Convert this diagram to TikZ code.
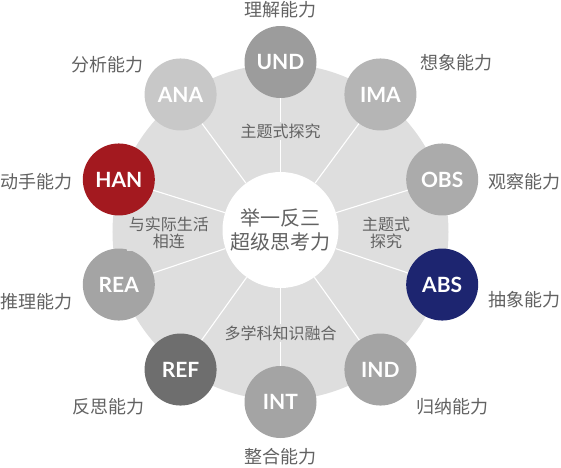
\documentclass[tikz,border=0pt]{standalone}
\usepackage{fontspec}
\setmainfont{Lato}
\newfontfamily\cjk{Noto Sans CJK SC}
\usepackage{tikz}

\definecolor{ringgray}{HTML}{DEDEDE}
\definecolor{txtgray}{HTML}{626262}
\definecolor{hanred}{HTML}{A3191F}
\definecolor{absblue}{HTML}{1D2570}
\definecolor{undgray}{HTML}{9C9C9C}
\definecolor{imagray}{HTML}{B5B5B5}
\definecolor{anagray}{HTML}{C8C8C8}
\definecolor{obsgray}{HTML}{ABABAB}
\definecolor{midgray}{HTML}{A4A4A4}
\definecolor{refgray}{HTML}{6E6E6E}

\tikzset{
  skill/.style={circle, minimum size=72pt, inner sep=0pt, text=white,
    font=\bfseries\fontsize{21}{23}\selectfont},
  lbl/.style={text=txtgray, font=\cjk\fontsize{18}{20}\selectfont},
  inlbl/.style={text=txtgray, fill=ringgray, align=center, inner sep=1.5pt,
    font=\cjk\fontsize{16}{17.5}\selectfont},
  spoke/.style={white, line width=1.1pt}
}

\begin{document}
\begin{tikzpicture}[x=1pt,y=1pt]
\useasboundingbox (-280.5,-235) rectangle (280.5,232);
\fill [ringgray] (0,0) circle (168);
% ten skills round the ring
\node [skill, fill=undgray]  (und) at (90:170)   {UND};
\node [skill, fill=imagray]  (ima) at (54:170)   {IMA};
\node [skill, fill=obsgray]  (obs) at (18:170)   {OBS};
\node [skill, fill=absblue]  (abs) at (-18:170)  {ABS};
\node [skill, fill=midgray]  (ind) at (-54:170)  {IND};
\node [skill, fill=midgray]  (int) at (-90:170)  {INT};
\node [skill, fill=refgray]  (ref) at (-126:170) {REF};
\node [skill, fill=midgray]  (rea) at (-162:170) {REA};
\node [skill, fill=hanred]   (han) at (162:170)  {HAN};
\node [skill, fill=anagray]  (ana) at (126:170)  {ANA};
\node [circle, fill=white, minimum size=116pt, inner sep=0pt, align=center,
  text=txtgray, font=\cjk\fontsize{20}{24}\selectfont] (core) at (0,2)
  {举一反三\\超级思考力};
% spokes
\draw [spoke] (core) -- (und);
\draw [spoke] (core) -- (ima);
\draw [spoke] (core) -- (obs);
\draw [spoke] (core) -- (abs);
\draw [spoke] (core) -- (ind);
\draw [spoke] (core) -- (int);
\draw [spoke] (core) -- (ref);
\draw [spoke] (core) -- (rea);
\draw [spoke] (core) -- (han);
\draw [spoke] (core) -- (ana);
% labels inside the ring
\node [inlbl] (topic) at (0,101) {主题式探究};
\node [inlbl] (topicr) at (105.5,-1) {主题式\\探究};
\node [inlbl] (life) at (-111.5,-1) {与实际生活\\相连};
\node [inlbl] (cross) at (0,-101) {多学科知识融合};
% labels outside the ring
\node [lbl] (undl) at (0,222)        {理解能力};
\node [lbl] (imal) at (175.5,169)    {想象能力};
\node [lbl] (obsl) at (243.5,50)     {观察能力};
\node [lbl] (absl) at (243.5,-68)    {抽象能力};
\node [lbl] (indl) at (171.5,-175)   {归纳能力};
\node [lbl] (intl) at (0,-225)       {整合能力};
\node [lbl] (refl) at (-171.5,-175)  {反思能力};
\node [lbl] (real) at (-243.5,-70)   {推理能力};
\node [lbl] (hanl) at (-243.5,50)    {动手能力};
\node [lbl] (anal) at (-172.5,167)   {分析能力};
\end{tikzpicture}
\end{document}
